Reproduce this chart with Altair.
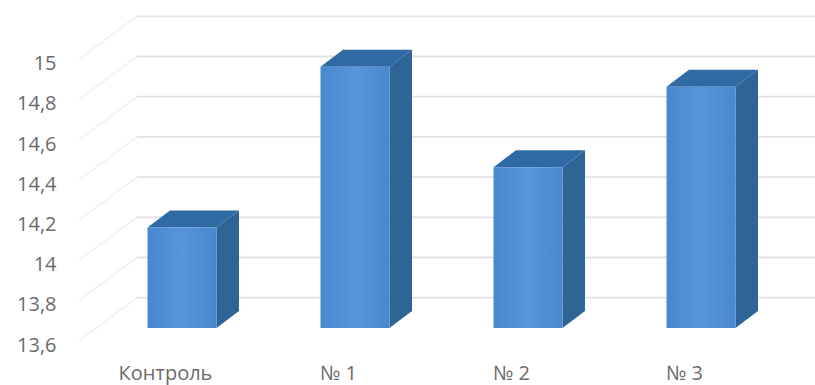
import altair as alt
import pandas as pd

categories = ["Контроль", "№ 1", "№ 2", "№ 3"]
values = [14.1, 14.9, 14.4, 14.8]
y_ticks = [13.6, 13.8, 14.0, 14.2, 14.4, 14.6, 14.8, 15.0]

W, H = 815, 385
UNIT_X = 173.0     # pixels per category step
UNIT_Y = 201.0     # pixels per value unit
X0 = 182.0         # pixel of the first category centre
FLOOR = 328.0      # pixel of the value 13.6 on the front plane
BASE = y_ticks[0]

x_domain = [-X0 / UNIT_X, (W - X0) / UNIT_X]
y_domain = [BASE - (H - FLOOR) / UNIT_Y, BASE + FLOOR / UNIT_Y]

half = 34.5 / UNIT_X        # half of the bar's front width
depth_x = 22.5 / UNIT_X     # bar depth, sideways
depth_y = 17.0 / UNIT_Y     # bar depth, upwards
wall_lift = 30.3 / UNIT_Y   # back wall above the front plane
wall_left = -45.0 / UNIT_X  # back wall's left edge
side_dx = 58.0 / UNIT_X     # side wall's sideways run
side_dy = 43.0 / UNIT_Y     # side wall's downward run

x_scale = alt.Scale(domain=x_domain, nice=False, zero=False)
y_scale = alt.Scale(domain=y_domain, nice=False, zero=False)

front = pd.DataFrame(
    {"i": range(4), "v": values, "base": [BASE] * 4}
)
front["x1"] = front["i"] - half
front["x2"] = front["i"] + half

side_rows, top_rows = [], []
for i, v in enumerate(values):
    right = i + half
    left = i - half
    side_rows += [
        {"i": i, "x": right, "lo": BASE, "hi": v},
        {"i": i, "x": right + depth_x, "lo": BASE + depth_y, "hi": v + depth_y},
    ]
    top_rows += [
        {"i": i, "y": v, "a": left, "b": right},
        {"i": i, "y": v + depth_y, "a": left + depth_x, "b": right + depth_x},
    ]
side = pd.DataFrame(side_rows)
top = pd.DataFrame(top_rows)

grid = pd.DataFrame({"t": y_ticks})
grid["wall"] = grid["t"] + wall_lift
grid["low"] = grid["wall"] - side_dy
grid["x1"] = wall_left
grid["x2"] = x_domain[1]
grid["x0"] = wall_left - side_dx

names = ",".join(f"'{c}'" for c in categories)
axis_font = dict(labelFont="Open Sans", labelColor="#6a6a6a", domain=False, ticks=False, grid=False, title=None)

x_axis = alt.Axis(
    values=[0, 1, 2, 3], labelExpr=f"[{names}][datum.value]",
    orient="bottom", offset=-22, labelPadding=0, labelOffset=-17,
    labelFontSize=20, labelFlush=False, labelOverlap=False, **axis_font,
)
y_axis = alt.Axis(
    values=y_ticks, labelExpr="replace(format(datum.value, '.2~f'), '.', ',')",
    orient="left", offset=-56, labelPadding=0, labelOffset=17,
    labelFontSize=20, labelFlush=False, labelOverlap=False, **axis_font,
)

X = lambda f: alt.X(f, type="quantitative", scale=x_scale, axis=x_axis, title=None)
Y = lambda f: alt.Y(f, type="quantitative", scale=y_scale, axis=y_axis, title=None)

back_lines = alt.Chart(grid).mark_rule(color="#e2e2e2", strokeWidth=1.8).encode(
    x=X("x1:Q"), x2="x2:Q", y=Y("wall:Q")
)
side_lines = alt.Chart(grid).mark_rule(color="#f3f3f3", strokeWidth=1.8).encode(
    x=X("x0:Q"), x2="x1:Q", y=Y("low:Q"), y2="wall:Q"
)

side_faces = alt.Chart(side).mark_area(color="#2f6496", orient="vertical").encode(
    x=X("x:Q"), y=Y("lo:Q"), y2="hi:Q", detail="i:N"
)
top_faces = alt.Chart(top).mark_area(color="#2f6aa5", orient="horizontal").encode(
    y=Y("y:Q"), x=X("a:Q"), x2="b:Q", detail="i:N"
)

front_fill = alt.Gradient(
    gradient="linear", x1=0, y1=0, x2=1, y2=0,
    stops=[
        alt.GradientStop(color="#4888cf", offset=0),
        alt.GradientStop(color="#5895da", offset=0.5),
        alt.GradientStop(color="#4888cf", offset=1),
    ],
)
bars = alt.Chart(front).mark_bar(color=front_fill).encode(
    x=X("x1:Q"), x2="x2:Q", y=Y("base:Q"), y2="v:Q"
)

chart = (
    alt.layer(back_lines, side_lines, side_faces, top_faces, bars)
    .properties(width=W, height=H, autosize="none", padding=0, background="white")
    .configure_view(stroke=None)
)

chart.save("out.html", embed_options={"renderer": "svg", "actions": False})
